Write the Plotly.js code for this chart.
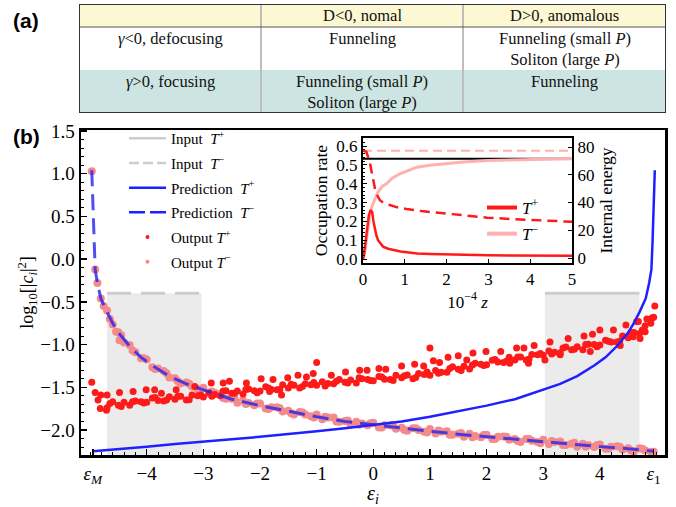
<!DOCTYPE html>
<html><head><meta charset="utf-8">
<script src="https://cdn.plot.ly/plotly-3.0.1.min.js"></script>
<style>html,body{margin:0;padding:0;background:#fff}</style>
</head><body><div id="chart" style="width:676px;height:507px"></div>
<script>
// ---------- Panel (a) table ----------
const tableHeader = ['', 'D&lt;0, nomal', 'D&gt;0, anomalous'];
const rowLabels = ['<i>γ</i>&lt;0, defocusing', '<i>γ</i>&gt;0, focusing'];
const normalCol = ['Funneling', 'Funneling (small <i>P</i>)<br>Soliton (large <i>P</i>)'];
const anomalousCol = ['Funneling (small <i>P</i>)<br>Soliton (large <i>P</i>)', 'Funneling'];
const tableFillCodes = [[0, 0, 0], [1, 1, 1], [2, 2, 2]]; // bottom row (focusing), middle row (defocusing), header

// ---------- Panel (b) main ----------
const epsM = -4.95, eps1 = 4.95;
const xTickVals = [epsM, -4, -3, -2, -1, 0, 1, 2, 3, 4, eps1];
const xTickLabels = ['<i>ε</i><sub><i>M</i></sub>', '−4', '−3', '−2', '−1', '0', '1', '2', '3', '4', '<i>ε</i><sub>1</sub>'];

const inputTmX = [-4.7, -3.03], inputTmY = [-0.4, -0.4];
const inputTpX = [3.03, 4.7],  inputTpY = [-0.4, -0.4];
const inputFloor = -3;

const predTpX = [-4.95,-4.5,-4,-3.5,-3,-2.5,-2,-1.5,-1,-0.5,0,0.5,1,1.5,2,2.5,3,3.3,3.6,3.9,4.1,4.3,4.5,4.6,4.7,4.81,4.87,4.91,4.93,4.95,4.97];
const predTpY = [-2.25,-2.22,-2.195,-2.165,-2.14,-2.11,-2.08,-2.05,-2.015,-1.98,-1.94,-1.90,-1.845,-1.78,-1.715,-1.64,-1.53,-1.46,-1.37,-1.245,-1.15,-1.02,-0.86,-0.75,-0.62,-0.46,-0.28,-0.12,0.2,0.55,1.04];
const predTmX = [-4.97,-4.95,-4.93,-4.91,-4.87,-4.81,-4.7,-4.6,-4.5,-4.3,-4.1,-3.9,-3.6,-3.3,-3,-2.5,-2,-1.5,-1,-0.5,0,0.5,1,1.5,2,2.5,3,3.5,4,4.5,4.95];
const predTmY = [1.04,0.55,0.2,-0.12,-0.28,-0.46,-0.62,-0.75,-0.86,-1.02,-1.15,-1.245,-1.37,-1.46,-1.53,-1.64,-1.715,-1.78,-1.845,-1.90,-1.94,-1.98,-2.015,-2.05,-2.08,-2.11,-2.14,-2.165,-2.195,-2.22,-2.25];

const outTmX = [-4.97,-4.91,-4.87,-4.81,-4.76,-4.54,-4.48,
 -4.7,-4.6,-4.5,-4.4,-4.3,-4.2,-4.1,-4.0,-3.9,-3.8,-3.7,-3.6,-3.5,-3.4,-3.3,-3.2,-3.1,-3.0,-2.9,-2.8,-2.7,-2.6,-2.5,-2.4,-2.3,-2.2,-2.1,-2.0,-1.9,-1.8,-1.7,-1.6,-1.5,-1.4,-1.3,-1.2,-1.1,-1.0,-0.9,-0.8,-0.7,-0.6,-0.5,-0.4,-0.3,-0.2,-0.1,0.0,0.1,0.2,0.3,0.4,0.5,0.6,0.7,0.8,0.9,1.0,1.1,1.2,1.3,1.4,1.5,1.6,1.7,1.8,1.9,2.0,2.1,2.2,2.3,2.4,2.5,2.6,2.7,2.8,2.9,3.0,3.1,3.2,3.3,3.4,3.5,3.6,3.7,3.8,3.9,4.0,4.1,4.2,4.3,4.4,4.5,4.6,4.7,4.8,4.9,
 -4.65,-4.45,-4.25,-4.05,-3.85,-3.65,-3.45,-3.25,-3.05,-2.85,-2.65,-2.45,-2.25,-2.05,-1.85,-1.65,-1.45,-1.25,-1.05,-0.85,-0.65,-0.45,-0.25,-0.05,0.15,0.35,0.55,0.75,0.95,1.15,1.35,1.55,1.75,1.95,2.15,2.35,2.55,2.75,2.95,3.15,3.35,3.55,3.75,3.95,4.15,4.35,4.55,4.75,4.95];
const outTmY = [1.03,-0.12,-0.28,-0.46,-0.55,-0.85,-0.95,
 -0.60,-0.765,-0.855,-0.975,-1.005,-1.09,-1.16,-1.175,-1.265,-1.28,-1.31,-1.385,-1.395,-1.455,-1.445,-1.49,-1.52,-1.505,-1.575,-1.565,-1.58,-1.635,-1.635,-1.68,-1.655,-1.685,-1.71,-1.69,-1.75,-1.735,-1.735,-1.785,-1.775,-1.82,-1.79,-1.82,-1.84,-1.82,-1.875,-1.855,-1.855,-1.905,-1.895,-1.935,-1.905,-1.925,-1.945,-1.915,-1.97,-1.945,-1.945,-1.985,-1.975,-2.01,-1.98,-2.0,-2.02,-1.99,-2.04,-2.02,-2.015,-2.055,-2.045,-2.08,-2.045,-2.07,-2.085,-2.055,-2.105,-2.08,-2.075,-2.115,-2.105,-2.14,-2.105,-2.125,-2.14,-2.115,-2.165,-2.14,-2.135,-2.175,-2.16,-2.195,-2.16,-2.18,-2.20,-2.17,-2.22,-2.195,-2.19,-2.23,-2.215,-2.25,-2.215,-2.24,-2.255,
 -0.70,-0.89,-1.07,-1.16,-1.285,-1.335,-1.43,-1.46,-1.535,-1.55,-1.625,-1.63,-1.695,-1.69,-1.755,-1.745,-1.805,-1.795,-1.855,-1.845,-1.9,-1.89,-1.94,-1.92,-1.97,-1.95,-2.0,-1.98,-2.03,-2.005,-2.055,-2.035,-2.085,-2.06,-2.105,-2.08,-2.13,-2.105,-2.155,-2.13,-2.175,-2.15,-2.195,-2.175,-2.22,-2.195,-2.24,-2.22,-2.255];

const outTpX = [
 -4.7,-4.6,-4.5,-4.4,-4.3,-4.2,-4.1,-4.0,-3.9,-3.8,-3.7,-3.6,-3.5,-3.4,-3.3,-3.2,-3.1,-3.0,-2.9,-2.8,-2.7,-2.6,-2.5,-2.4,-2.3,-2.2,-2.1,-2.0,-1.9,-1.8,-1.7,-1.6,-1.5,-1.4,-1.3,-1.2,-1.1,-1.0,-0.9,-0.8,-0.7,-0.6,-0.5,-0.4,-0.3,-0.2,-0.1,0.0,0.1,0.2,0.3,0.4,0.5,0.6,0.7,0.8,0.9,1.0,1.1,1.2,1.3,1.4,1.5,1.6,1.7,1.8,1.9,2.0,2.1,2.2,2.3,2.4,2.5,2.6,2.7,2.8,2.9,3.0,3.1,3.2,3.3,3.4,3.5,3.6,3.7,3.8,3.9,4.0,4.1,4.2,4.3,4.4,4.5,4.6,4.7,4.8,4.9,
 -4.65,-4.45,-4.25,-4.05,-3.85,-3.65,-3.45,-3.25,-3.05,-2.85,-2.65,-2.45,-2.25,-2.05,-1.85,-1.65,-1.45,-1.25,-1.05,-0.85,-0.65,-0.45,-0.25,-0.05,0.15,0.35,0.55,0.75,0.95,1.15,1.35,1.55,1.75,1.95,2.15,2.35,2.55,2.75,2.95,3.15,3.35,3.55,3.75,3.95,4.15,4.35,4.55,4.75,4.95,
 -4.97,-4.91,-4.81,-4.70,-4.48,-4.24,-4.01,-3.86,-3.74,-3.48,-3.15,-2.86,-2.65,-2.54,-2.24,-1.98,-1.77,-1.51,-1.33,-1.18,-1.06,-1.00,-0.74,-0.49,-0.24,-0.11,0.10,0.22,0.50,0.73,0.89,1.00,1.06,1.17,1.32,1.50,1.65,1.76,1.99,2.25,2.53,2.66,2.84,3.12,3.44,3.72,3.87,4.00,4.24,4.46,4.65,4.83,4.90,4.97,
 -4.86,-4.82,-4.71,-1.83,-1.62,2.41,2.74,3.03,3.30,3.83,4.36,4.71,4.80,4.92,4.68,4.59];
const outTpY = [
 -1.74,-1.67,-1.71,-1.675,-1.71,-1.66,-1.67,-1.675,-1.625,-1.655,-1.66,-1.61,-1.64,-1.605,-1.65,-1.59,-1.60,-1.615,-1.565,-1.585,-1.60,-1.54,-1.57,-1.545,-1.58,-1.52,-1.54,-1.545,-1.495,-1.525,-1.53,-1.47,-1.51,-1.475,-1.51,-1.46,-1.47,-1.475,-1.435,-1.455,-1.46,-1.41,-1.44,-1.415,-1.45,-1.40,-1.41,-1.425,-1.375,-1.405,-1.41,-1.36,-1.39,-1.355,-1.40,-1.34,-1.35,-1.36,-1.305,-1.325,-1.325,-1.26,-1.29,-1.255,-1.285,-1.22,-1.23,-1.235,-1.185,-1.205,-1.21,-1.15,-1.18,-1.145,-1.18,-1.115,-1.12,-1.125,-1.075,-1.09,-1.095,-1.03,-1.06,-1.025,-1.06,-0.995,-1.00,-1.005,-0.95,-0.97,-0.97,-0.90,-0.92,-0.86,-0.87,-0.78,-0.75,
 -1.69,-1.725,-1.67,-1.685,-1.62,-1.65,-1.605,-1.645,-1.59,-1.605,-1.545,-1.57,-1.525,-1.565,-1.51,-1.525,-1.465,-1.49,-1.445,-1.485,-1.43,-1.45,-1.39,-1.42,-1.38,-1.42,-1.365,-1.385,-1.32,-1.335,-1.28,-1.305,-1.24,-1.245,-1.175,-1.195,-1.145,-1.17,-1.105,-1.11,-1.04,-1.055,-1.0,-1.025,-0.96,-0.96,-0.86,-0.83,-0.68,
 -1.44,-1.56,-1.59,-1.59,-1.56,-1.55,-1.53,-1.53,-1.57,-1.53,-1.49,-1.45,-1.45,-1.43,-1.45,-1.40,-1.41,-1.39,-1.36,-1.38,-1.34,-1.21,-1.36,-1.32,-1.30,-1.30,-1.28,-1.29,-1.25,-1.23,-1.25,-1.04,-1.19,-1.21,-1.15,-1.13,-1.18,-1.10,-1.08,-1.08,-1.04,-1.04,-1.01,-0.97,-0.93,-0.90,-0.88,-0.83,-0.83,-0.77,-0.73,-0.70,-0.70,-0.55,
 -1.65,-1.75,-1.77,-1.55,-1.59,-1.22,-1.22,-1.18,-1.12,-1.08,-1.01,-0.93,-0.85,-0.69,-0.73,-0.91];

// ---------- Inset ----------
const occTpZ = [0,0.02,0.05,0.08,0.11,0.14,0.18,0.22,0.25,0.28,0.32,0.36,0.42,0.48,0.6,0.72,0.9,1.1,1.3,1.6,2,2.5,3,3.5,4,4.5,5];
const occTpV = [0,0.02,0.07,0.127,0.18,0.233,0.26,0.25,0.2,0.16,0.125,0.10,0.08,0.066,0.055,0.048,0.04,0.035,0.03,0.027,0.024,0.021,0.02,0.019,0.019,0.018,0.018];
const occTmZ = [0,0.04,0.08,0.12,0.16,0.2,0.26,0.32,0.4,0.48,0.56,0.7,0.88,1.08,1.29,1.6,1.93,2.4,2.97,3.5,4.1,4.6,5];
const occTmV = [0,0.03,0.1,0.18,0.23,0.27,0.31,0.34,0.37,0.39,0.40,0.43,0.453,0.472,0.488,0.498,0.506,0.516,0.524,0.527,0.529,0.531,0.533];
const engTpZ = [0,0.08,0.16,0.24,0.3,0.4,0.5,0.64,0.8,1.04,1.4,1.93,2.4,2.97,3.5,4.02,4.5,5];
const engTpE = [77.5,76.6,69.4,57.4,47.8,41.8,39.6,38.2,36.7,35.3,33.8,32.2,30.6,29.1,28.2,27.4,26.8,26.1];
const engTmZ = [0,5], engTmE = [77.3,77.3];
const refZ = [0,5], refV = [0.533,0.533];

// ---------- helpers (layout positions only) ----------
const W = 676, H = 507;
const px = v => v / W, py = v => 1 - v / H;
const SERIF = 'Liberation Serif, Times New Roman, serif';
const RED = '#ff1a1a', PINK = '#f58a8a', BLUE = '#1f1fff', GRAY = '#cdcdcd';
const LPINK = '#ffb0b0';

// table grid in pixel-like units (left->right columns, bottom->top rows)
const colEdges = [0, 182, 384, 587];
const rowEdges = [0, 43, 86, 109];

const traces = [];
// table cell fills via heatmap
traces.push({
  type: 'heatmap', xaxis: 'x3', yaxis: 'y4',
  x: colEdges, y: rowEdges, z: tableFillCodes,
  zmin: 0, zmax: 2, showscale: false, hoverinfo: 'skip',
  colorscale: [[0, '#cde5e2'], [0.25, '#cde5e2'], [0.25, '#ffffff'], [0.75, '#ffffff'], [0.75, '#fcf8d4'], [1, '#fcf8d4']]
});

// input fills
function fillPoly(xs, ys) {
  return {x: [xs[0], xs[0], xs[1], xs[1]], y: [inputFloor, ys[0], ys[1], inputFloor]};
}
const fm = fillPoly(inputTmX, inputTmY), fp = fillPoly(inputTpX, inputTpY);
traces.push({x: fm.x, y: fm.y, mode: 'lines', fill: 'toself', fillcolor: '#ebebeb', line: {width: 0}, showlegend: false, hoverinfo: 'skip'});
traces.push({x: fp.x, y: fp.y, mode: 'lines', fill: 'toself', fillcolor: '#ebebeb', line: {width: 0}, showlegend: false, hoverinfo: 'skip'});
traces.push({x: inputTpX, y: inputTpY, mode: 'lines', line: {color: GRAY, width: 3}, showlegend: false});
traces.push({x: inputTmX, y: inputTmY, mode: 'lines', line: {color: GRAY, width: 3, dash: '24px,10px'}, showlegend: false});
// outputs
traces.push({x: outTmX, y: outTmY, mode: 'markers', marker: {color: PINK, size: 8}, showlegend: false});
traces.push({x: outTpX, y: outTpY, mode: 'markers', marker: {color: RED, size: 7}, showlegend: false});
// predictions
traces.push({x: predTpX, y: predTpY, mode: 'lines', line: {color: BLUE, width: 2.5}, showlegend: false});
traces.push({x: predTmX, y: predTmY, mode: 'lines', line: {color: 'rgba(35,35,240,0.8)', width: 3, dash: '16px,8px'}, showlegend: false});

// legend entries (main)
const leg = (name, extra) => Object.assign({x: [null], y: [null], name: name, legend: 'legend', legendgroup: name}, extra);
traces.push(leg('Input\u00a0 <i>T</i><sup>+</sup>', {mode: 'lines', line: {color: GRAY, width: 2.5}}));
traces.push(leg('Input\u00a0 <i>T</i><sup>−</sup>', {mode: 'lines', line: {color: GRAY, width: 2.5, dash: '10px,4px'}}));
traces.push(leg('Prediction\u00a0 <i>T</i><sup>+</sup>', {mode: 'lines', line: {color: BLUE, width: 2.5}}));
traces.push(leg('Prediction\u00a0 <i>T</i><sup>−</sup>', {mode: 'lines', line: {color: BLUE, width: 2.5, dash: '16px,5px'}}));
traces.push(leg('Output <i>T</i><sup>+</sup>', {mode: 'markers', marker: {color: RED, size: 4}}));
traces.push(leg('Output <i>T</i><sup>−</sup>', {mode: 'markers', marker: {color: PINK, size: 4}}));

// inset
traces.push({x: refZ, y: refV, xaxis: 'x2', yaxis: 'y2', mode: 'lines', line: {color: '#000', width: 2}, showlegend: false});
traces.push({x: engTmZ, y: engTmE, xaxis: 'x2', yaxis: 'y3', mode: 'lines', line: {color: LPINK, width: 2, dash: '9px,5px'}, showlegend: false});
traces.push({x: occTmZ, y: occTmV, xaxis: 'x2', yaxis: 'y2', mode: 'lines', line: {color: LPINK, width: 3}, showlegend: false});
traces.push({x: engTpZ, y: engTpE, xaxis: 'x2', yaxis: 'y3', mode: 'lines', line: {color: RED, width: 2.5, dash: '10px,6px'}, showlegend: false});
traces.push({x: occTpZ, y: occTpV, xaxis: 'x2', yaxis: 'y2', mode: 'lines', line: {color: RED, width: 2.5}, showlegend: false});
traces.push({x: [null], y: [null], xaxis: 'x2', yaxis: 'y2', name: '<i>T</i><sup>+</sup>', legend: 'legend2', legendgroup: 'a', mode: 'lines', line: {color: RED, width: 4}});
traces.push({x: [null], y: [null], xaxis: 'x2', yaxis: 'y2', name: '<i>T</i><sup>−</sup>', legend: 'legend2', legendgroup: 'b', mode: 'lines', line: {color: LPINK, width: 4}});

// table text annotations and borders
const tblFont = {family: SERIF, size: 16.5, color: '#111'};
const colCenters = [0, 1, 2].map(i => (colEdges[i] + colEdges[i + 1]) / 2);
const tableAnn = [];
const rowTops = [rowEdges[3], rowEdges[2], rowEdges[1]]; // header, defocusing row, focusing row
const tableRows = [tableHeader, [rowLabels[0], normalCol[0], anomalousCol[0]], [rowLabels[1], normalCol[1], anomalousCol[1]]];
tableRows.forEach((row, r) => row.forEach((txt, c) => {
  if (!txt) return;
  tableAnn.push({text: txt, xref: 'x3', yref: 'y4', x: colCenters[c], y: rowTops[r] - 0.5,
    xanchor: 'center', yanchor: 'top', showarrow: false, font: tblFont, align: 'center', borderpad: 0});
}));

const axBase = {showgrid: false, zeroline: false, showline: true, linecolor: '#000', ticks: 'inside', tickcolor: '#000'};
const hidden = {visible: false, showgrid: false, zeroline: false, fixedrange: true};
const layout = {
  width: W, height: H, autosize: false,
  margin: {l: 0, r: 0, t: 0, b: 0, pad: 0},
  paper_bgcolor: '#fff', plot_bgcolor: 'rgba(0,0,0,0)',
  font: {family: SERIF, color: '#000'},
  showlegend: true,
  xaxis: Object.assign({}, axBase, {
    domain: [px(81), px(665)], anchor: 'y', range: [-5.16, 5.15],
    tickvals: xTickVals, ticktext: xTickLabels, ticklen: 6, tickwidth: 1.5,
    linewidth: 2.5, mirror: true, tickfont: {family: SERIF, size: 19},
    minor: {dtick: 0.2, tick0: 0, ticklen: 3, tickwidth: 1, ticks: 'inside', tickcolor: '#000'},
    title: {text: '<i>ε<sub>i</sub></i>', font: {family: SERIF, size: 20}, standoff: 12}
  }),
  yaxis: Object.assign({}, axBase, {
    domain: [py(455), py(130)], anchor: 'x', range: [-2.293, 1.512],
    dtick: 0.5, tick0: 0, tickformat: '.1f', ticklen: 6, tickwidth: 1.5,
    linewidth: 2.5, mirror: true, tickfont: {family: SERIF, size: 19},
    minor: {dtick: 0.1, ticklen: 3, tickwidth: 1, ticks: 'inside', tickcolor: '#000'},
    title: {text: 'log<sub>10</sub>[|<i>c<sub>i</sub></i>|<sup>2</sup>]', font: {family: SERIF, size: 18}, standoff: 2}
  }),
  xaxis2: Object.assign({}, axBase, {
    domain: [px(363), px(572)], anchor: 'y2', range: [0, 5], dtick: 1, tick0: 0,
    ticklen: 4, tickwidth: 1, linewidth: 2, mirror: true, tickfont: {family: SERIF, size: 17},
    title: {text: '10<sup>−4</sup> <i>z</i>', font: {family: SERIF, size: 17}, standoff: 6}
  }),
  yaxis2: Object.assign({}, axBase, {
    domain: [py(263), py(138)], anchor: 'x2', range: [-0.021, 0.643], dtick: 0.1, tick0: 0,
    tickformat: '.1f', ticklen: 4, tickwidth: 1, linewidth: 2, tickfont: {family: SERIF, size: 17},
    minor: {dtick: 0.02, ticklen: 2, tickwidth: 1, ticks: 'inside', tickcolor: '#000'},
    title: {text: 'Occupation rate', font: {family: SERIF, size: 17.5}, standoff: 4}
  }),
  yaxis3: Object.assign({}, axBase, {
    domain: [py(263), py(138)], anchor: 'x2', overlaying: 'y2', side: 'right',
    range: [-3.6, 86.5], dtick: 20, tick0: 0, ticklen: 4, tickwidth: 1, linewidth: 2,
    tickfont: {family: SERIF, size: 17},
    title: {text: 'Internal energy', font: {family: SERIF, size: 17.5}, standoff: 6}
  }),
  xaxis3: Object.assign({}, hidden, {domain: [px(79), px(666)], anchor: 'y4', range: [colEdges[0], colEdges[3]]}),
  yaxis4: Object.assign({}, hidden, {domain: [py(113), py(4)], anchor: 'x3', range: [rowEdges[0], rowEdges[3]]}),
  legend: {x: px(124), y: py(122), xanchor: 'left', yanchor: 'top', bgcolor: 'rgba(0,0,0,0)',
    font: {family: SERIF, size: 15}, itemwidth: 37, tracegroupgap: 2.2, traceorder: 'grouped'},
  legend2: {x: px(482), y: py(190), xanchor: 'left', yanchor: 'top', bgcolor: 'rgba(0,0,0,0)',
    font: {family: SERIF, size: 17}, itemwidth: 30, tracegroupgap: 1, traceorder: 'grouped'},
  shapes: [
    {type: 'line', xref: 'x3', yref: 'y4', x0: colEdges[1], x1: colEdges[1], y0: rowEdges[0], y1: rowEdges[3], line: {color: '#bdbdbd', width: 2}},
    {type: 'line', xref: 'x3', yref: 'y4', x0: colEdges[2], x1: colEdges[2], y0: rowEdges[0], y1: rowEdges[3], line: {color: '#bdbdbd', width: 2}},
    {type: 'line', xref: 'x3', yref: 'y4', x0: colEdges[0], x1: colEdges[3], y0: rowEdges[2], y1: rowEdges[2], line: {color: '#555', width: 1.2}},
    {type: 'rect', xref: 'x3', yref: 'y4', x0: colEdges[0], x1: colEdges[3], y0: rowEdges[0], y1: rowEdges[3], line: {color: '#333', width: 2}}
  ],
  annotations: tableAnn.concat([
    {text: '<b>(a)</b>', xref: 'paper', yref: 'paper', x: px(11), y: py(21), xanchor: 'left', yanchor: 'middle', showarrow: false, font: {family: 'Liberation Sans, Arial, sans-serif', size: 21}},
    {text: '<b>(b)</b>', xref: 'paper', yref: 'paper', x: px(11), y: py(136), xanchor: 'left', yanchor: 'middle', showarrow: false, font: {family: 'Liberation Sans, Arial, sans-serif', size: 21}}
  ])
};

Plotly.newPlot('chart', traces, layout, {displayModeBar: false, staticPlot: true});
</script></body></html>
